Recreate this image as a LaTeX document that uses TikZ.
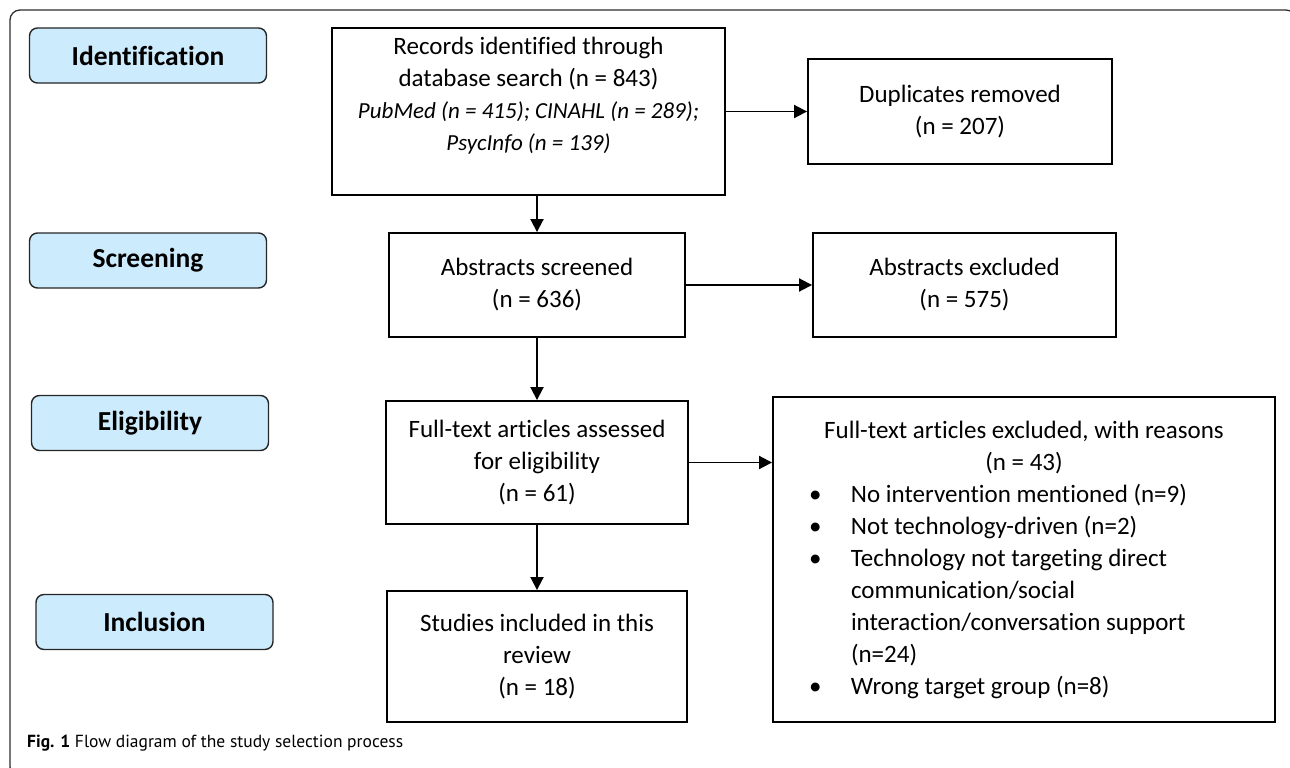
\documentclass[tikz,border=0pt]{standalone}
\usepackage{fontspec}
\setmainfont{Carlito}[Ligatures=NoCommon]
\newfontfamily\capfont{PT Sans}
\usetikzlibrary{arrows.meta}
\definecolor{stagefill}{RGB}{204,235,252}
\definecolor{framecol}{RGB}{45,45,45}
\tikzset{
  flowbox/.style={draw=black, line width=1.9pt, align=center, font=\fontsize{25}{32}\selectfont, inner sep=0pt},
  stagebox/.style={draw=black!85, line width=1.4pt, fill=stagefill, rounded corners=8pt, minimum width=237pt, minimum height=55pt, font=\bfseries\fontsize{27.5}{32}\selectfont, inner sep=0pt},
  plaintext/.style={align=center, font=\fontsize{25}{32}\selectfont, inner sep=0pt},
  arr/.style={line width=1.9pt, -{Triangle[length=13pt,width=13pt]}},
}
\newcommand\rsnitem[1]{\par\leftskip=67pt\rightskip=0pt plus 1fil\parfillskip=0pt plus 1fil\noindent\llap{\makebox[42pt][l]{\textbullet}}#1}
\begin{document}
\begin{tikzpicture}[x=1pt,y=-1pt]
\useasboundingbox (0,0) rectangle (1290,768);
\begin{scope}
\clip (0,0) rectangle (1290,768);
\draw[framecol, line width=1.3pt, rounded corners=10pt] (10,10) rectangle (1296,777);
\end{scope}

% stage labels
\node[stagebox] (sid) at (148,55.5) {Identification};
\node[stagebox] (sscr) at (148,260.5) {Screening};
\node[stagebox] (selg) at (150,423) {Eligibility};
\node[stagebox] (sinc) at (154.5,622) {Inclusion};

% flow boxes
\node[flowbox, minimum width=393pt, minimum height=167pt] (rec) at (528.5,111.5) {};
\node[plaintext] (rect) at (528.5,95.5) {Records identified through\\database search (n = 843)\\{\fontsize{23}{32}\selectfont\itshape PubMed (n = 415); CINAHL (n = 289);}\\{\fontsize{23}{32}\selectfont\itshape PsycInfo (n = 139)}};
\node[flowbox, minimum width=304pt, minimum height=105pt] (dup) at (960,111.5) {Duplicates removed\\(n = 207)};
\node[flowbox, minimum width=296pt, minimum height=104pt] (scr) at (537,285) {Abstracts screened\\(n = 636)};
\node[flowbox, minimum width=303pt, minimum height=104pt] (absx) at (964.5,285) {Abstracts excluded\\(n = 575)};
\node[flowbox, minimum width=302pt, minimum height=123pt] (ft) at (537,462.5) {Full-text articles assessed\\for eligibility\\(n = 61)};
\node[flowbox, minimum width=300pt, minimum height=131pt] (inc) at (537,656.5) {Studies included in this\\review\\(n = 18)};
\node[flowbox, minimum width=502pt, minimum height=325pt] (rsn) at (1024,559.5) {\begin{minipage}{480pt}\fontsize{25}{32}\selectfont
{\centering Full-text articles excluded, with reasons\\(n = 43)\par}%
\rsnitem{No intervention mentioned (n=9)}%
\rsnitem{Not technology-driven (n=2)}%
\rsnitem{Technology not targeting direct\newline communication/social\newline interaction/conversation support\newline (n=24)}%
\rsnitem{Wrong target group (n=8)}\par
\end{minipage}};

% connectors
\draw[arr] (rec.east) -- (dup.west);
\draw[arr] (rec.south -| scr.north) -- (scr.north);
\draw[arr] (scr.east) -- (absx.west);
\draw[arr] (scr.south) -- (ft.north);
\draw[arr] (ft.east) -- (ft.east -| rsn.west);
\draw[arr] (ft.south) -- (inc.north);

% caption
\node[anchor=base west, inner sep=0pt, font=\capfont\fontsize{17.5}{20}\selectfont] (cap) at (27,747) {\textbf{Fig. 1} Flow diagram of the study selection process};
\end{tikzpicture}
\end{document}
